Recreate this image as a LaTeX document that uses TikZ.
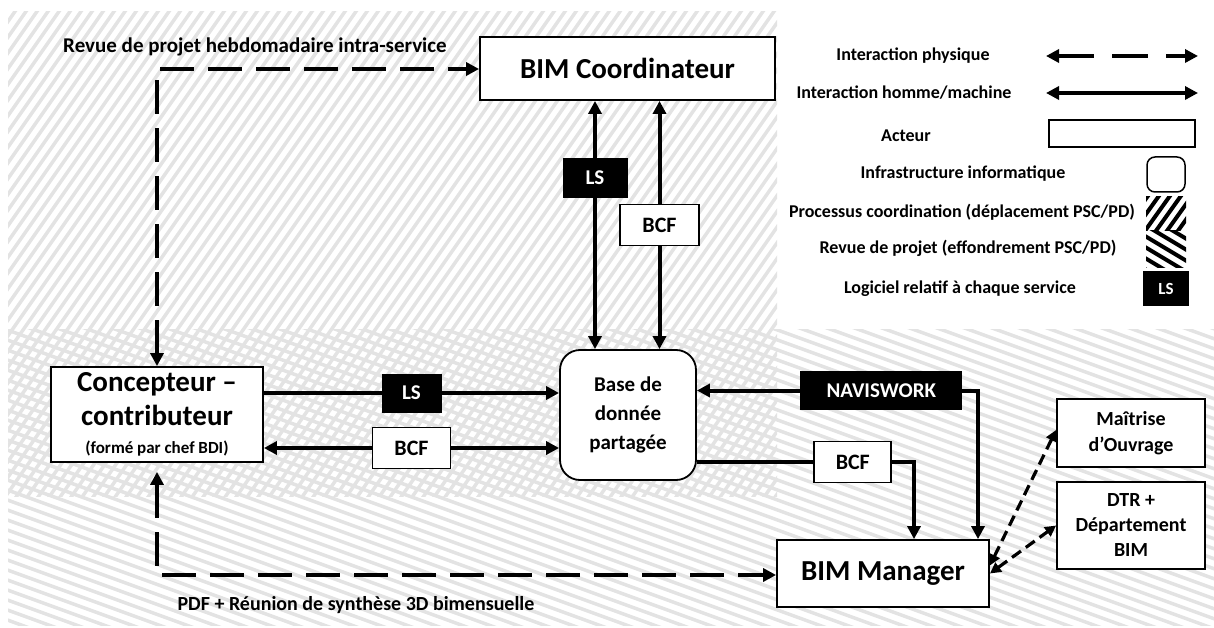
\documentclass[tikz,border=0pt]{standalone}
\usepackage{fontspec}
\setmainfont{Carlito}
\usetikzlibrary{arrows.meta,positioning}

\tikzset{
	acteur/.style={draw, line width=1.8pt, fill=white, inner sep=0pt, align=center, font=\bfseries},
	infra/.style={acteur, rounded corners=20pt},
	lsbox/.style={fill=black, text=white, inner sep=0pt, font=\bfseries\fontsize{21}{24}\selectfont},
	bcfbox/.style={draw, line width=1.8pt, fill=white, inner sep=0pt, font=\bfseries\fontsize{22}{24}\selectfont},
	hm/.style={line width=4pt, {Triangle[length=13pt,width=13pt]}-{Triangle[length=13pt,width=13pt]}},
	hmone/.style={line width=4pt, -{Triangle[length=13pt,width=13pt]}},
	phys/.style={line width=4pt, dash pattern=on 34pt off 14pt, {Triangle[length=13pt,width=13pt]}-{Triangle[length=13pt,width=13pt]}},
	physsmall/.style={line width=3.2pt, dash pattern=on 11pt off 6pt, {Triangle[length=11pt,width=11pt]}-{Triangle[length=11pt,width=11pt]}},
	hatchline/.style={gray!22, line width=3.5pt},
	legtext/.style={font=\bfseries\fontsize{18}{20}\selectfont},
}

\begin{document}
\begin{tikzpicture}[x=1pt, y=-1pt]
	\useasboundingbox (0,0) rectangle (1214,628);
	
	% zones hachurees
	\begin{scope}
		\clip (8,12) rectangle (777,496);
		\foreach \x in {-360,-349,...,790}
			\draw[hatchline] (\x,500) -- ++(350,-500);
	\end{scope}
	\begin{scope}
		\clip (8,329) rectangle (1214,625);
		\foreach \x in {-900,-872.5,...,1220}
			\draw[hatchline] (\x,320) -- ++(880,320);
	\end{scope}
	
	% acteurs
	\node[acteur, minimum width=295pt, minimum height=63pt, font=\bfseries\fontsize{29}{32}\selectfont] (coord) at (627.5,68.5) {BIM Coordinateur};
	\node[acteur, minimum width=212pt, minimum height=95pt, font=\bfseries\fontsize{29}{34}\selectfont] (conc) at (157,414.5) {Concepteur –\\contributeur\\[-6pt]{\fontsize{17}{20}\selectfont (formé par chef BDI)}};
	\node[infra, minimum width=136pt, minimum height=130pt, font=\bfseries\fontsize{21}{29}\selectfont] (base) at (628,415) {Base de\\donnée\\partagée};
	\node[acteur, minimum width=212pt, minimum height=67pt, font=\bfseries\fontsize{29}{32}\selectfont] (mgr) at (883,573.5) {BIM Manager};
	\node[acteur, minimum width=148pt, minimum height=68pt, font=\bfseries\fontsize{20}{26}\selectfont] (moa) at (1131,433) {Maîtrise\\d’Ouvrage};
	\node[acteur, minimum width=148pt, minimum height=87pt, font=\bfseries\fontsize{20}{25}\selectfont] (dtr) at (1131,525.5) {DTR +\\Département\\BIM};
	
	\node[font=\bfseries\fontsize{21}{24}\selectfont] (revtxt) at (255,47) {Revue de projet hebdomadaire intra-service};
	\node[font=\bfseries\fontsize{20}{24}\selectfont] (pdftxt) at (356,605) {PDF + Réunion de synthèse 3D bimensuelle};
	
	% liaisons homme/machine
	\coordinate (lsx) at (595,0);
	\coordinate (bcfx) at (659.5,0);
	\coordinate (lsy) at (0,393);
	\coordinate (bcfy) at (0,448);
	\coordinate (navturn) at (978,390.5);
	\coordinate (bcfturn) at (914,462);
	\draw[hm] (coord.south -| lsx) -- node[lsbox, pos=0.31, minimum width=65pt, minimum height=40pt] (lsv) {LS} (base.north -| lsx);
	\draw[hm] (coord.south -| bcfx) -- node[bcfbox, minimum width=79pt, minimum height=41pt] (bcfv) {BCF} (base.north -| bcfx);
	\draw[hmone] (conc.east |- lsy) -- node[lsbox, minimum width=60pt, minimum height=39pt] (lsh) {LS} (base.west |- lsy);
	\draw[hm] (conc.east |- bcfy) -- node[bcfbox, minimum width=78pt, minimum height=41pt] (bcfh) {BCF} (base.west |- bcfy);
	\draw[hm] (base.east |- navturn) -- node[lsbox, pos=0.656, minimum width=162pt, minimum height=39pt] (nav) {NAVISWORK} (navturn) -- (mgr.north -| navturn);
	\draw[hmone] (base.east |- bcfturn) -- node[bcfbox, pos=0.718, minimum width=77pt, minimum height=41pt] (bcfm) {BCF} (bcfturn) -- (mgr.north -| bcfturn);
	
	% interactions physiques
	\coordinate (revturn) at (157,69);
	\coordinate (pdfturn) at (157,575);
	\draw[phys] (conc.north) -- (revturn) -- (coord.west |- revturn);
	\draw[phys, shorten <=9pt] (conc.south) -- (pdfturn) -- (mgr.west |- pdfturn);
	\draw[physsmall] ([yshift=8pt]mgr.east) -- ([yshift=3pt]moa.west);
	\draw[physsmall] (mgr.east) -- (dtr.west);
	
	% legende
	\node[legtext] (legphys) at (913,56) {Interaction physique};
	\coordinate (physa) at (1046,56);
	\coordinate (physb) at (1198,56);
	\draw[phys, dash pattern=on 36pt off 18pt] (physa) -- (physb);
	\node[legtext] (leghm) at (904,93) {Interaction homme/machine};
	\coordinate (hma) at (1046,93);
	\coordinate (hmb) at (1198,93);
	\draw[hm] (hma) -- (hmb);
	\node[legtext] (legact) at (906,136) {Acteur};
	\node[acteur, line width=1.5pt, minimum width=146pt, minimum height=27pt] (actsample) at (1122,133.5) {};
	\node[legtext] (leginf) at (963,174) {Infrastructure informatique};
	\node[acteur, rounded corners=8pt, line width=1.5pt, minimum width=38pt, minimum height=35pt] (infsample) at (1166,174.5) {};
	\node[legtext] (legcoo) at (962,212) {Processus coordination (déplacement PSC/PD)};
	\begin{scope}
		\clip (1146,197) rectangle (1186,231);
		\foreach \x in {1120,1131,...,1190}
			\draw[line width=4pt] (\x,235) -- ++(30,-42);
	\end{scope}
	\node[legtext] (legrev) at (968,248) {Revue de projet (effondrement PSC/PD)};
	\begin{scope}
		\clip (1146,231) rectangle (1186,267);
		\foreach \y in {200,211,...,270}
			\draw[line width=4pt] (1140,\y) -- ++(50,30);
	\end{scope}
	\node[legtext] (legls) at (960,289) {Logiciel relatif à chaque service};
	\node[lsbox, minimum width=46pt, minimum height=35pt, font=\bfseries\fontsize{17}{20}\selectfont] (lssample) at (1166,288.5) {LS};
\end{tikzpicture}
\end{document}
